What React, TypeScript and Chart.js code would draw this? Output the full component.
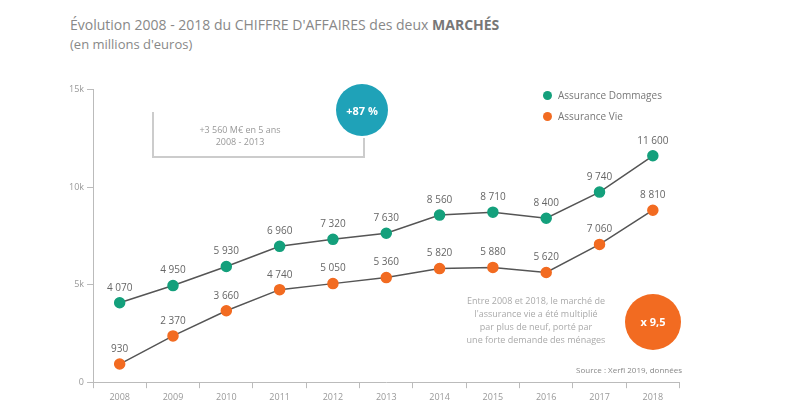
import React, { useEffect, useRef } from 'react';
import Chart from 'chart.js/auto';

const years = ['2008', '2009', '2010', '2011', '2012', '2013', '2014', '2015', '2016', '2017', '2018'];
const greenValues = [4070, 4950, 5930, 6960, 7320, 7630, 8560, 8710, 8400, 9740, 11600];
const orangeValues = [930, 2370, 3660, 4740, 5050, 5360, 5820, 5880, 5620, 7060, 8810];
const yTicks = [0, 5000, 10000, 15000];
const seriesNames = ['Assurance Dommages', 'Assurance Vie'];

const GREEN = '#14a07c';
const ORANGE = '#f26b21';
const GRAY = '#777';

const fmt = (v: number) => v.toLocaleString('fr-FR').replace(/\u202f|\u00a0/g, ' ');

const labelPlugin = {
  id: 'pointLabels',
  afterDatasetsDraw(chart: any) {
    const { ctx } = chart;
    ctx.save();
    ctx.font = '10px "Open Sans", sans-serif';
    ctx.fillStyle = '#666';
    ctx.textAlign = 'center';
    ctx.textBaseline = 'bottom';
    chart.data.datasets.forEach((ds: any, di: number) => {
      const meta = chart.getDatasetMeta(di);
      meta.data.forEach((pt: any, i: number) => {
        ctx.fillText(fmt(ds.data[i]), pt.x, pt.y - 10);
      });
    });
    ctx.restore();
  },
};

const App: React.FC = () => {
  const chartRef = useRef<HTMLCanvasElement>(null);
  const chartInstance = useRef<Chart | null>(null);

  useEffect(() => {
    if (!chartRef.current) return;
    if (chartInstance.current) chartInstance.current.destroy();
    const ctx = chartRef.current.getContext('2d');
    if (!ctx) return;

    chartInstance.current = new Chart(ctx, {
      type: 'line',
      data: {
        labels: years,
        datasets: [
          {
            label: seriesNames[0],
            data: greenValues,
            borderColor: '#555',
            borderWidth: 1.5,
            backgroundColor: GREEN,
            pointBackgroundColor: GREEN,
            pointBorderColor: GREEN,
            pointRadius: 5,
            pointStyle: 'circle',
            tension: 0,
          },
          {
            label: seriesNames[1],
            data: orangeValues,
            borderColor: '#555',
            borderWidth: 1.5,
            backgroundColor: ORANGE,
            pointBackgroundColor: ORANGE,
            pointBorderColor: ORANGE,
            pointRadius: 5,
            pointStyle: 'circle',
            tension: 0,
          },
        ],
      },
      options: {
        animation: false,
        responsive: false,
        layout: { padding: 0 },
        plugins: {
          legend: { display: false },
          tooltip: { enabled: false },
        },
        scales: {
          x: {
            offset: true,
            grid: { display: true, drawOnChartArea: false, offset: true, tickLength: 6, color: '#bbb' },
            border: { color: '#bbb' },
            ticks: { color: '#999', font: { size: 9, family: '"Open Sans", sans-serif' }, padding: 4 },
          },
          y: {
            min: 0,
            max: 15000,
            afterBuildTicks: (axis: any) => {
              axis.ticks = yTicks.map(v => ({ value: v }));
            },
            grid: { display: true, drawOnChartArea: false, tickLength: 6, color: '#bbb' },
            border: { color: '#bbb' },
            ticks: {
              color: '#999',
              font: { size: 9, family: '"Open Sans", sans-serif' },
              callback: (v: any) => (v === 0 ? '0' : `${Number(v) / 1000}k`),
            },
          },
        },
      },
      plugins: [labelPlugin],
    });

    return () => {
      if (chartInstance.current) chartInstance.current.destroy();
    };
  }, []);

  const font = '"Open Sans", sans-serif';

  return (
    <div style={{ position: 'relative', width: 800, height: 420, margin: -8, background: '#fff', fontFamily: font, overflow: 'hidden' }}>
      {/* Title */}
      <div style={{ position: 'absolute', left: 70, top: 15, fontSize: 14, color: '#888', whiteSpace: 'nowrap' }}>
        Évolution 2008 - 2018 du CHIFFRE D'AFFAIRES des deux <b style={{ color: '#777' }}>MARCHÉS</b>
      </div>
      <div style={{ position: 'absolute', left: 70, top: 35, fontSize: 13, color: '#888', whiteSpace: 'nowrap' }}>
        (en millions d'euros)
      </div>

      {/* Chart */}
      <div style={{ position: 'absolute', left: 66, top: 81, width: 620, height: 326 }}>
        <canvas ref={chartRef} width={620} height={326} />
      </div>

      {/* Legend */}
      {seriesNames.map((name, i) => (
        <div key={name} style={{ position: 'absolute', left: 543, top: 88 + i * 21, display: 'flex', alignItems: 'center', gap: 6, fontSize: 10, color: GRAY, whiteSpace: 'nowrap' }}>
          <span style={{ width: 9, height: 9, borderRadius: '50%', background: i === 0 ? GREEN : ORANGE, display: 'inline-block' }} />
          {name}
        </div>
      ))}

      {/* Bracket annotation */}
      <div style={{ position: 'absolute', left: 152, top: 112, width: 211, height: 44, borderLeft: '2px solid #ccc', borderBottom: '2px solid #ccc' }} />
      <div style={{ position: 'absolute', left: 363, top: 138, width: 0, height: 18, borderLeft: '2px solid #ccc' }} />
      <div style={{ position: 'absolute', left: 175, top: 124, width: 130, textAlign: 'center', fontSize: 9, color: '#999', lineHeight: '12px' }}>
        +3 560 M€ en 5 ans<br />2008 - 2013
      </div>
      <div style={{ position: 'absolute', left: 336, top: 84, width: 52, height: 52, borderRadius: '50%', background: '#1fa2b8', color: '#fff', fontWeight: 700, fontSize: 11, display: 'flex', alignItems: 'center', justifyContent: 'center' }}>
        +87 %
      </div>

      {/* Comment block */}
      <div style={{ position: 'absolute', left: 450, top: 294, width: 172, textAlign: 'center', fontSize: 9, color: '#aaa', lineHeight: '13px' }}>
        Entre 2008 et 2018, le marché de<br />l'assurance vie a été multiplié<br />par plus de neuf, porté par<br />une forte demande des ménages
      </div>
      <div style={{ position: 'absolute', left: 625, top: 294, width: 56, height: 56, borderRadius: '50%', background: ORANGE, color: '#fff', fontWeight: 700, fontSize: 11, display: 'flex', alignItems: 'center', justifyContent: 'center', textAlign: 'center', lineHeight: '12px' }}>
        x 9,5
      </div>

      {/* Source */}
      <div style={{ position: 'absolute', left: 560, top: 364, width: 122, textAlign: 'right', fontSize: 8, color: '#888', whiteSpace: 'nowrap' }}>
        Source : Xerfi 2019, données
      </div>
    </div>
  );
};

export default App;
